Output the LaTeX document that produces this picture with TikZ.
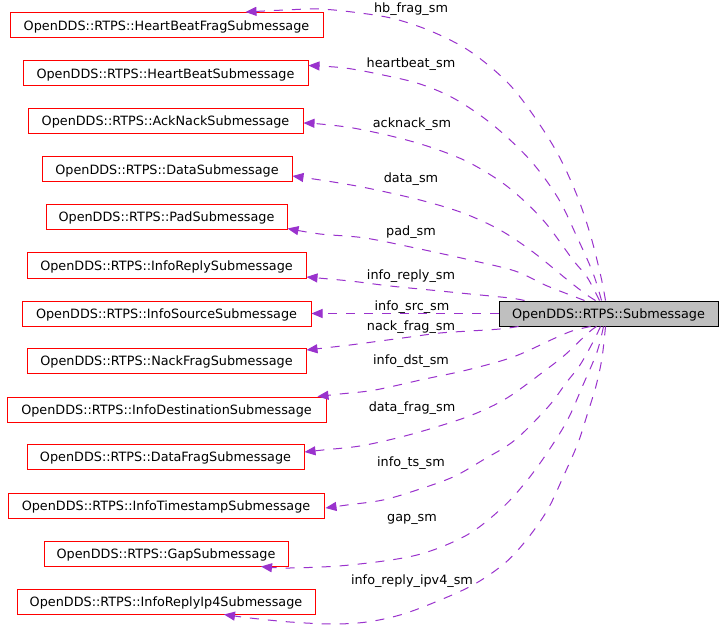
\documentclass[tikz,border=0pt]{standalone}
\usepackage{fontspec}
\setmainfont{DejaVu Sans}
\usetikzlibrary{arrows.meta,calc}
\definecolor{edgec}{HTML}{9A32CD}
\definecolor{subfill}{HTML}{BFBFBF}
\tikzset{
  cls/.style={draw=red, fill=white, line width=1pt, minimum height=25pt, inner sep=0pt,
    text height=9.5pt, text depth=0pt, font=\fontsize{12.8}{14}\selectfont},
  mainbox/.style={cls, draw=black, fill=subfill},
  usage/.style={draw=edgec, line width=1pt, dash pattern=on 9pt off 9pt,
    -{Triangle[length=11pt,width=9pt,fill=edgec]}},
  lbl/.style={anchor=base, inner sep=0pt, font=\fontsize{12.8}{14}\selectfont}
}
\begin{document}
\begin{tikzpicture}[x=1pt,y=-1pt]
\useasboundingbox[fill=white] (0,0) rectangle (723,639);
% nodes
\node[mainbox, minimum width=219pt] (sub) at (608.5,313.5) {OpenDDS::RTPS::Submessage};
\node[cls, minimum width=313pt] (hbf) at (166.5,25.5) {OpenDDS::RTPS::HeartBeatFragSubmessage};
\node[cls, minimum width=285pt] (hb) at (165.5,73.5) {OpenDDS::RTPS::HeartBeatSubmessage};
\node[cls, minimum width=275pt] (ack) at (165.5,121) {OpenDDS::RTPS::AckNackSubmessage};
\node[cls, minimum width=250pt] (data) at (167,169.5) {OpenDDS::RTPS::DataSubmessage};
\node[cls, minimum width=241pt] (pad) at (166.5,217) {OpenDDS::RTPS::PadSubmessage};
\node[cls, minimum width=279pt] (irep) at (166.5,265.5) {OpenDDS::RTPS::InfoReplySubmessage};
\node[cls, minimum width=289pt] (isrc) at (166.5,313.5) {OpenDDS::RTPS::InfoSourceSubmessage};
\node[cls, minimum width=279pt] (nack) at (166.5,361) {OpenDDS::RTPS::NackFragSubmessage};
\node[cls, minimum width=319pt] (idst) at (166.5,409.5) {OpenDDS::RTPS::InfoDestinationSubmessage};
\node[cls, minimum width=277pt] (dfrag) at (165.5,457) {OpenDDS::RTPS::DataFragSubmessage};
\node[cls, minimum width=316pt] (its) at (166,505.5) {OpenDDS::RTPS::InfoTimestampSubmessage};
\node[cls, minimum width=244pt] (gap) at (166,553.5) {OpenDDS::RTPS::GapSubmessage};
\node[cls, minimum width=298pt] (ip4) at (166,601.5) {OpenDDS::RTPS::InfoReplyIp4Submessage};
% end coordinates
\coordinate (s1) at ($(sub.north)+(-3,0)$);
\coordinate (t1) at ($(hbf.north)+(79,-0.5)$);
\coordinate (s2) at ($(sub.north)+(-7,0)$);
\coordinate (t2) at ($(hb.east)+(0,-8)$);
\coordinate (s3) at ($(sub.north)+(-9,0)$);
\coordinate (t3) at ($(ack.east)+(0,2)$);
\coordinate (s4) at ($(sub.north)+(-13,0)$);
\coordinate (t4) at ($(data.east)+(0,6.5)$);
\coordinate (s5) at ($(sub.north)+(-24,0)$);
\coordinate (t5) at ($(pad.east)+(0,11.5)$);
\coordinate (s6) at ($(sub.north)+(-84,0)$);
\coordinate (t6) at ($(irep.east)+(0,11.5)$);
\coordinate (s8) at ($(sub.south)+(-90,0)$);
\coordinate (t8) at ($(nack.east)+(0,-11)$);
\coordinate (s9) at ($(sub.south)+(-18,0)$);
\coordinate (t9) at ($(idst.north east)+(-9,0)$);
\coordinate (s10) at ($(sub.south)+(-12,0)$);
\coordinate (t10) at ($(dfrag.east)+(0,-5)$);
\coordinate (s11) at ($(sub.south)+(-8,0)$);
\coordinate (t11) at ($(its.east)+(1,2.5)$);
\coordinate (s12) at ($(sub.south)+(-5,0)$);
\coordinate (t12) at ($(gap.south)+(95,0)$);
\coordinate (s13) at ($(sub.south)+(-3,0)$);
\coordinate (t13) at ($(ip4.south)+(58,0)$);
% edges
\draw[usage] plot[smooth, tension=0.55] coordinates {(s1) (601,277) (591,237) (578,198) (560,158) (538,122) (509,84) (471,52) (433,32) (395,19) (360,13) (320,9) (285,10) (t1)};
\draw[usage] plot[smooth, tension=0.55] coordinates {(s2) (593,273) (577,237) (558,198) (530,160) (493,125) (455,99) (420,84) (383,75) (345,68) (t2)};
\draw[usage] plot[smooth, tension=0.55] coordinates {(s3) (587,277) (573,260) (543,220) (508,187) (470,163) (433,148) (395,137) (353,128) (320,124) (t3)};
\draw[usage] plot[smooth, tension=0.55] coordinates {(s4) (587,295) (570,282) (533,252) (500,230) (463,213) (420,200) (367,188) (327,181) (t4)};
\draw[usage] plot[smooth, tension=0.55] coordinates {(s5) (565,293) (545,285) (515,271) (470,260) (420,249) (365,238) (320,234) (t5)};
\draw[usage] plot[smooth, tension=0.55] coordinates {(s6) (510,298) (470,294) (430,290) (390,286) (350,281) (t6)};
\draw[usage] (sub.west) -- (isrc.east);
\draw[usage] plot[smooth, tension=0.55] coordinates {(s8) (500,329) (470,331) (440,333) (410,337) (380,341) (350,345) (t8)};
\draw[usage] plot[smooth, tension=0.55] coordinates {(s9) (572,331) (553,339) (513,357) (467,370) (425,379) (375,390) (340,394) (t9)};
\draw[usage] plot[smooth, tension=0.55] coordinates {(s10) (588,333) (566,354) (547,369) (507,398) (472,415) (433,428) (397,438) (360,446) (323,450) (t10)};
\draw[usage] plot[smooth, tension=0.55] coordinates {(s11) (593,342) (580,365) (566,383) (548,407) (515,440) (483,460) (453,477) (417,490) (383,500) (347,505) (t11)};
\draw[usage] plot[smooth, tension=0.55] coordinates {(s12) (597,352) (583,385) (567,421) (545,456) (525,483) (502,508) (467,535) (417,555) (350,565) (290,568) (t12)};
\draw[usage] plot[smooth, tension=0.55] coordinates {(s13) (602,358) (596,386) (588,412) (578,443) (564,475) (548,509) (528,538) (505,563) (473,585) (433,603) (400,615) (367,622) (333,624) (290,622) (250,618) (t13)};
% labels
\node[lbl] (l1) at (411,12.5) {hb\_frag\_sm};
\node[lbl] (l2) at (411,67.5) {heartbeat\_sm};
\node[lbl] (l3) at (412,127.5) {acknack\_sm};
\node[lbl] (l4) at (411,182.5) {data\_sm};
\node[lbl] (l5) at (411,236) {pad\_sm};
\node[lbl] (l6) at (411,279.5) {info\_reply\_sm};
\node[lbl] (l7) at (412,310.5) {info\_src\_sm};
\node[lbl] (l8) at (411,330) {nack\_frag\_sm};
\node[lbl] (l9) at (411,364.5) {info\_dst\_sm};
\node[lbl] (l10) at (412,411.5) {data\_frag\_sm};
\node[lbl] (l11) at (411,466.5) {info\_ts\_sm};
\node[lbl] (l12) at (412,521.5) {gap\_sm};
\node[lbl] (l13) at (412,584) {info\_reply\_ipv4\_sm};
\end{tikzpicture}
\end{document}
